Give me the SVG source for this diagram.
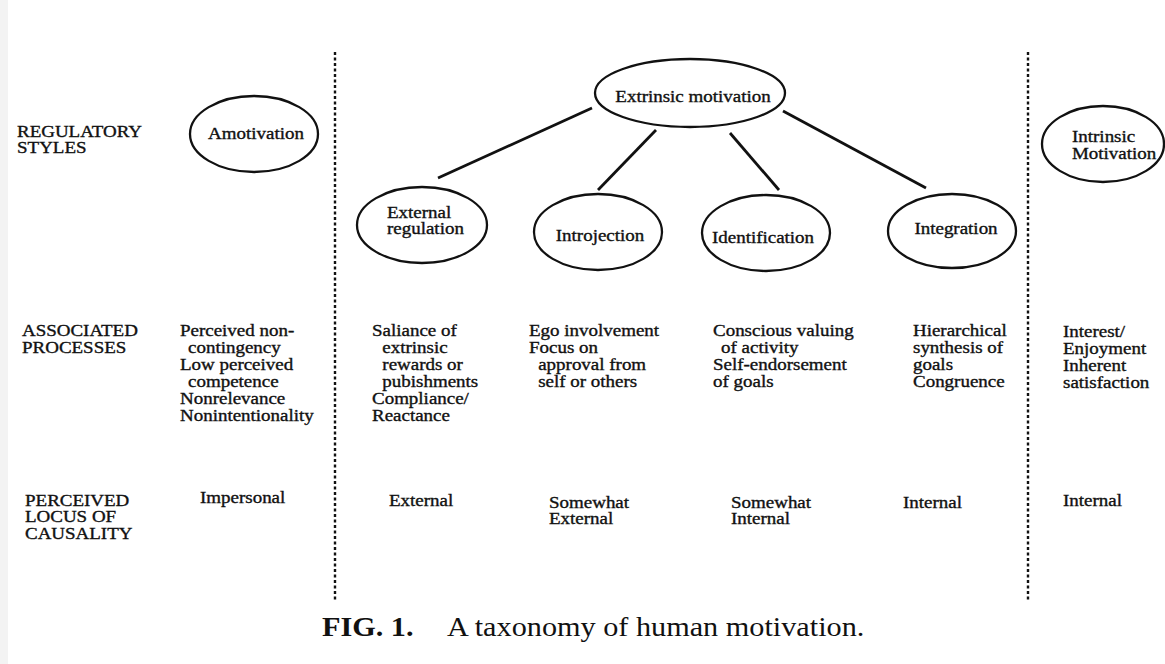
<svg xmlns="http://www.w3.org/2000/svg" width="1165" height="664" viewBox="0 0 1165 664">
<style>
.t{font-family:"Liberation Serif","Times New Roman",serif;font-size:16.5px;fill:#111;stroke:#111;stroke-width:0.35}
.m{text-anchor:middle}
.cap{font-family:"Liberation Serif","Times New Roman",serif;font-size:26.3px;fill:#111}
.b{font-weight:bold}
.node{fill:#fff;stroke:#111;stroke-width:2.3}
.conn{stroke:#111;stroke-width:2.8;fill:none}
.div{stroke:#111;stroke-width:2.4;stroke-dasharray:3 2.5;fill:none}
</style>
<rect x="0" y="0" width="1165" height="664" fill="#fff"/>
<rect x="0" y="0" width="8" height="664" fill="#f3f3f3"/>

<g id="dividers">
<line class="div" x1="335" y1="52" x2="335" y2="600"/>
<line class="div" x1="1028" y1="52" x2="1028" y2="600"/>
</g>

<g id="row-labels">
<text class="t" transform="matrix(1.15 0 0 1 17 137)"><tspan x="0">REGULATORY</tspan><tspan x="0" dy="16.5">STYLES</tspan></text>
<text class="t" transform="matrix(1.15 0 0 1 22 336)"><tspan x="0">ASSOCIATED</tspan><tspan x="0" dy="16.7">PROCESSES</tspan></text>
<text class="t" transform="matrix(1.15 0 0 1 25 506)"><tspan x="0">PERCEIVED</tspan><tspan x="0" dy="16.5">LOCUS OF</tspan><tspan x="0" dy="16.5">CAUSALITY</tspan></text>
</g>

<g id="connectors">
<line class="conn" x1="592" y1="108" x2="438" y2="178"/>
<line class="conn" x1="656" y1="130" x2="598" y2="190"/>
<line class="conn" x1="730" y1="133" x2="779" y2="190"/>
<line class="conn" x1="783" y1="111" x2="926" y2="188"/>
</g>

<g id="amotivation">
<ellipse class="node" cx="254" cy="134" rx="64" ry="38"/>
<text class="t m" transform="matrix(1.15 0 0 1 256 139)">Amotivation</text>
</g>

<g id="extrinsic-motivation">
<ellipse class="node" cx="690" cy="93" rx="95" ry="34"/>
<text class="t m" transform="matrix(1.15 0 0 1 693 102)">Extrinsic motivation</text>
</g>

<g id="external-regulation">
<ellipse class="node" cx="422" cy="225" rx="65" ry="38"/>
<text class="t" transform="matrix(1.15 0 0 1 387 218)"><tspan x="0">External</tspan><tspan x="0" dy="16.5">regulation</tspan></text>
</g>

<g id="introjection">
<ellipse class="node" cx="598" cy="232" rx="64" ry="38"/>
<text class="t m" transform="matrix(1.15 0 0 1 600 241)">Introjection</text>
</g>

<g id="identification">
<ellipse class="node" cx="766" cy="233" rx="64" ry="38"/>
<text class="t m" transform="matrix(1.15 0 0 1 763 243)">Identification</text>
</g>

<g id="integration">
<ellipse class="node" cx="952" cy="231" rx="64" ry="37"/>
<text class="t m" transform="matrix(1.15 0 0 1 956 234)">Integration</text>
</g>

<g id="intrinsic-motivation">
<ellipse class="node" cx="1103" cy="144" rx="61" ry="38"/>
<text class="t" transform="matrix(1.15 0 0 1 1072 142)"><tspan x="0">Intrinsic</tspan><tspan x="0" dy="17">Motivation</tspan></text>
</g>

<g id="processes">
<text class="t" transform="matrix(1.15 0 0 1 180 336)"><tspan x="0">Perceived non-</tspan><tspan x="7" dy="17">contingency</tspan><tspan x="0" dy="17">Low perceived</tspan><tspan x="7" dy="17">competence</tspan><tspan x="0" dy="17">Nonrelevance</tspan><tspan x="0" dy="17">Nonintentionality</tspan></text>
<text class="t" transform="matrix(1.15 0 0 1 372 336)"><tspan x="0">Saliance of</tspan><tspan x="9" dy="17">extrinsic</tspan><tspan x="9" dy="17">rewards or</tspan><tspan x="9" dy="17">pubishments</tspan><tspan x="0" dy="17">Compliance/</tspan><tspan x="0" dy="17">Reactance</tspan></text>
<text class="t" transform="matrix(1.15 0 0 1 529 336)"><tspan x="0">Ego involvement</tspan><tspan x="0" dy="17">Focus on</tspan><tspan x="8" dy="17">approval from</tspan><tspan x="8" dy="17">self or others</tspan></text>
<text class="t" transform="matrix(1.15 0 0 1 713 336)"><tspan x="0">Conscious valuing</tspan><tspan x="7" dy="17">of activity</tspan><tspan x="0" dy="17">Self-endorsement</tspan><tspan x="0" dy="17">of goals</tspan></text>
<text class="t" transform="matrix(1.15 0 0 1 913 336)"><tspan x="0">Hierarchical</tspan><tspan x="0" dy="17">synthesis of</tspan><tspan x="0" dy="17">goals</tspan><tspan x="0" dy="17">Congruence</tspan></text>
<text class="t" transform="matrix(1.15 0 0 1 1063 337)"><tspan x="0">Interest/</tspan><tspan x="0" dy="17">Enjoyment</tspan><tspan x="0" dy="17">Inherent</tspan><tspan x="0" dy="17">satisfaction</tspan></text>
</g>

<g id="locus">
<text class="t" transform="matrix(1.15 0 0 1 200 503)">Impersonal</text>
<text class="t" transform="matrix(1.15 0 0 1 389 506)">External</text>
<text class="t" transform="matrix(1.15 0 0 1 549 508)"><tspan x="0">Somewhat</tspan><tspan x="0" dy="16.5">External</tspan></text>
<text class="t" transform="matrix(1.15 0 0 1 731 508)"><tspan x="0">Somewhat</tspan><tspan x="0" dy="16.5">Internal</tspan></text>
<text class="t" transform="matrix(1.15 0 0 1 903 508)">Internal</text>
<text class="t" transform="matrix(1.15 0 0 1 1063 506)">Internal</text>
</g>

<g id="caption">
<text class="cap b" transform="matrix(1.15 0 0 1 322 636)">FIG. 1.</text>
<text class="cap" transform="matrix(1.15 0 0 1 447 636)">A taxonomy of human motivation.</text>
</g>
</svg>
